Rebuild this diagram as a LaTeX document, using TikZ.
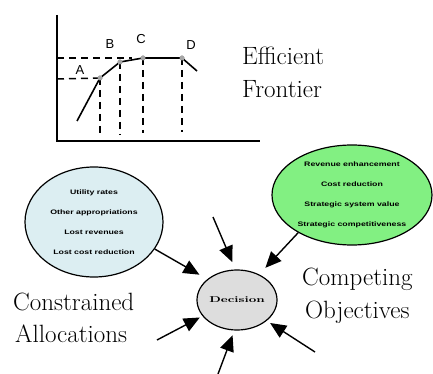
\documentclass[tikz,border=0pt]{standalone}
\usepackage{fontspec}
\usepackage{graphicx}
\usetikzlibrary{shapes.geometric,arrows.meta}
\newfontfamily\widesans{Liberation Sans}[FakeStretch=1.35]
\newfontfamily\plainsans{Liberation Sans}
\definecolor{paleblue}{HTML}{DCEEF2}
\definecolor{lightgreen}{HTML}{82F082}
\definecolor{decgray}{HTML}{DDDDDD}
\tikzset{
  bigtext/.style={font=\fontsize{25}{28}\selectfont, inner sep=0pt, anchor=base west},
  ptlabel/.style={font=\plainsans\fontsize{13}{13}\selectfont, inner sep=0pt},
  dot/.style={circle, fill=gray!70, inner sep=0pt, minimum size=5pt},
  axisline/.style={line width=1.6pt},
  curveline/.style={line width=1.6pt, line join=round},
  guide/.style={line width=1.5pt, dash pattern=on 7pt off 5pt},
  blob/.style={ellipse, draw, line width=1.2pt, inner sep=0pt, align=center,
    font=\widesans\bfseries\fontsize{6.5}{20}\selectfont},
  feed/.style={line width=1.4pt, -{Triangle[length=16pt,width=14pt]}}
}
\begin{document}
\begin{tikzpicture}[x=1pt,y=-1pt]
\useasboundingbox (0,0) rectangle (433,374);
% ---------- efficient frontier chart ----------
\coordinate (ytop) at (57,15);
\coordinate (orig) at (57,141);
\coordinate (xend) at (260,141);
\draw[axisline] (ytop) -- (orig) -- (xend);
\coordinate (cstart) at (77,121);
\coordinate (cend) at (197,71);
\node[dot] (A) at (100,78) {};
\node[dot] (B) at (120,62) {};
\node[dot] (C) at (143,58) {};
\node[dot] (D) at (182,58) {};
\coordinate (yA) at (57,79);
\coordinate (yB) at (57,58);
\coordinate (hB) at (132,58);
\coordinate (bA) at (100,135);
\coordinate (bB) at (120,135);
\coordinate (bC) at (143,133);
\coordinate (bD) at (182,132);
\draw[guide] (yA) -- (A.center);
\draw[guide] (yB) -- (hB);
\draw[guide] (A.center) -- (bA);
\draw[guide] (B.center) -- (bB);
\draw[guide] (C.center) -- (bC);
\draw[guide] (D.center) -- (bD);
\draw[curveline] (cstart) -- (A.center) -- (B.center) -- (C.center) -- (D.center) -- (cend);
\node[dot] at (A) {};
\node[dot] at (B) {};
\node[dot] at (C) {};
\node[dot] at (D) {};
\node[ptlabel] (lA) at (80,70) {A};
\node[ptlabel] (lB) at (110,44) {B};
\node[ptlabel] (lC) at (141,39) {C};
\node[ptlabel] (lD) at (191,45) {D};
\node[bigtext] (eff) at (242,65) {Efficient};
\node[bigtext] (fro) at (242,98) {Frontier};
% ---------- decision diagram ----------
\node[blob, fill=paleblue, minimum width=138pt, minimum height=110pt] (L) at (94,222)
  {Utility rates\\Other appropriations\\Lost revenues\\Lost cost reduction};
\node[blob, fill=lightgreen, minimum width=160pt, minimum height=100pt] (G) at (352,195)
  {Revenue enhancement\\Cost reduction\\Strategic system value\\Strategic competitiveness};
\node[ellipse, draw, line width=1.2pt, fill=decgray, minimum width=80pt, minimum height=60pt, inner sep=0pt] (Dec) at (237,300)
  {\scalebox{1.5}[1]{\fontsize{8.5}{9}\selectfont\bfseries Decision}};
\node[bigtext] (con) at (13,310) {Constrained};
\node[bigtext] (all) at (15,342) {Allocations};
\node[bigtext] (com) at (302,285) {Competing};
\node[bigtext] (obj) at (305,318) {Objectives};
\coordinate (t2) at (213,217);
\coordinate (t4) at (157,340);
\coordinate (t5) at (218,374);
\coordinate (t6) at (315,352);
\draw[feed, shorten >=9pt] (L.-24) -- (Dec.145);
\draw[feed, shorten >=8pt] (t2) -- (Dec.93);
\draw[feed, shorten >=9pt] (G.215) -- (Dec.49);
\draw[feed, shorten >=3pt] (t4) -- (Dec.205);
\draw[feed, shorten >=5pt] (t5) -- (Dec.-95);
\draw[feed, shorten >=4pt] (t6) -- (Dec.-35);
\end{tikzpicture}
\end{document}
